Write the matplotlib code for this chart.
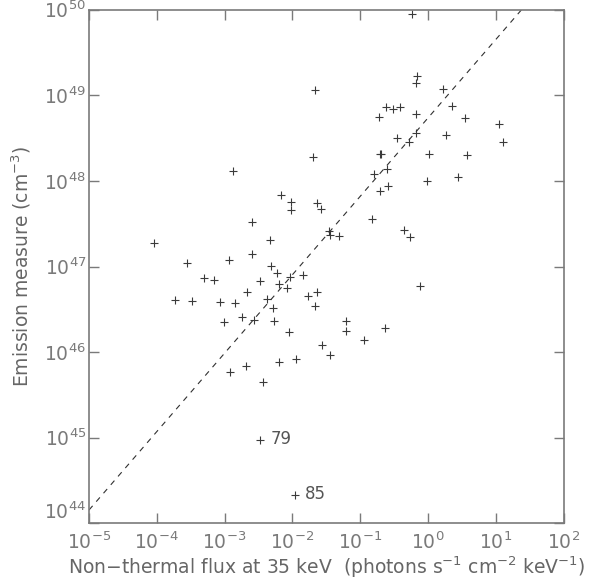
import numpy as np
import matplotlib
matplotlib.use("Agg")
import matplotlib.pyplot as plt

# log10 of non-thermal flux at 35 keV (photons s^-1 cm^-2 keV^-1)
flux_log = [-4.04, -3.55, -3.31, -3.16, -3.73, -3.48, -3.07, -2.94, -2.84, -3.01,
            -2.75, -2.67, -2.59, -2.59, -2.56, -2.47, -2.69, -2.92, -2.43, -2.87,
            -2.33, -2.31, -2.22, -2.04, -1.84, -2.19, -2.08, -2.37, -2.28, -1.77,
            -1.64, -1.66, -2.27, -2.05, -1.21, -1.21, -0.64, -0.95, -1.56, -1.44,
            -2.20, -1.95, -2.17, -2.02, -2.02, -1.63, -1.58, -1.46, -1.45, -1.31,
            -0.82, -0.35, -0.26, -0.12, -1.70, -1.66, -0.71, -0.69, 0.01, 0.57,
            -0.79, -0.60, -0.01, 0.44, -0.70, -0.59, -0.23, -0.16, -0.17, 0.22,
            -0.62, -0.51, -0.41, 0.35, -0.72, -0.17, 0.54, 1.05, -0.18, -0.45,
            -0.28, 0.27, 1.10, -2.47, -1.96]

# log10 of emission measure (cm^-3)
em_log = [47.27, 47.04, 46.87, 46.84, 46.61, 46.60, 46.59, 47.08, 46.57, 46.35,
          46.41, 46.70, 47.15, 47.52, 46.38, 46.83, 45.84, 45.77, 45.65, 48.11,
          47.31, 47.01, 46.92, 46.88, 46.90, 46.80, 46.75, 46.62, 46.51, 46.66,
          46.70, 46.54, 46.36, 46.24, 46.36, 46.25, 46.28, 46.14, 46.08, 45.97,
          45.88, 45.92, 47.84, 47.75, 47.66, 47.74, 47.67, 47.42, 47.37, 47.36,
          47.56, 47.43, 47.34, 46.77, 48.28, 49.06, 48.32, 48.32, 48.31, 48.30,
          48.08, 48.14, 48.00, 48.04, 47.88, 47.94, 49.95, 49.23, 49.14, 49.07,
          48.86, 48.84, 48.86, 48.87, 48.75, 48.78, 48.73, 48.67, 48.56, 48.50,
          48.46, 48.54, 48.46, 44.97, 44.33]

# labelled events: index into the lists above -> label
event_labels = {83: "79", 84: "85"}

# dashed fit line: log EM = fit_a + fit_b * log F
fit_a = 48.735
fit_b = 0.916

flux = 10.0 ** np.array(flux_log)
em = 10.0 ** np.array(em_log)

grey = "#7a7a7a"
plt.rcParams["font.family"] = ["DejaVu Sans"]

fig = plt.figure(figsize=(5.92, 5.81), dpi=100)
ax = fig.add_axes([0.1503, 0.0993, 0.8016, 0.884])

ax.plot(flux, em, "+", color="#3a3a3a", ms=6, mew=0.8, ls="none")

xf = np.logspace(-5, 2, 50)
ax.plot(xf, 10.0 ** (fit_a + fit_b * np.log10(xf)), color="#303030",
        lw=0.8, ls=(0, (5, 5)))

for i, lab in event_labels.items():
    ax.annotate(lab, (flux[i], em[i]), xytext=(7, 1), textcoords="offset points",
                va="center", ha="left", fontsize=12, color="#555555")

ax.set_xscale("log")
ax.set_yscale("log")
ax.set_xlim(1e-5, 1e2)
ax.set_ylim(1e44, 1e50)
ax.minorticks_off()
ax.set_xticks(10.0 ** np.arange(-5, 3))
ax.set_yticks(10.0 ** np.arange(44, 51))

ax.tick_params(which="major", direction="in", length=7, width=1, color=grey,
               top=True, right=True, labelsize=13.5, labelcolor=grey)
ax.tick_params(axis="x", pad=6)
ax.tick_params(axis="y", pad=2)
for s in ax.spines.values():
    s.set_color(grey)
    s.set_linewidth(1.2)

# lowest y label sits above the corner, clear of the x labels
ax.yaxis.get_major_ticks()[0].label1.set_verticalalignment("bottom")

ax.set_xlabel("Non$-$thermal flux at 35 keV  (photons s$^{-1}$ cm$^{-2}$ keV$^{-1}$)",
              fontsize=13.5, color="#666666", labelpad=1)
ax.set_ylabel("Emission measure (cm$^{-3}$)", fontsize=13.5, color="#666666",
              labelpad=8)

plt.savefig("out.png", dpi=100)
